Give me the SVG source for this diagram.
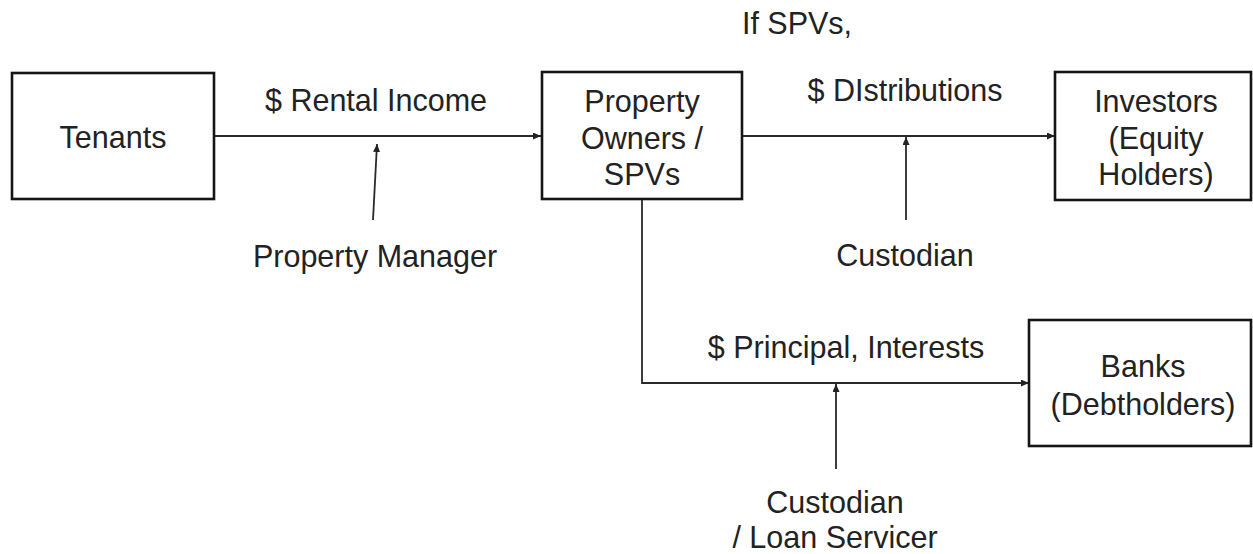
<svg xmlns="http://www.w3.org/2000/svg" width="1253" height="554" viewBox="0 0 1253 554">
<defs>
<marker id="ah" viewBox="0 0 10 10" refX="10" refY="5" markerWidth="8" markerHeight="7" orient="auto" markerUnits="userSpaceOnUse" preserveAspectRatio="none">
<path d="M0,0 L10,5 L0,10 z" fill="#222"/>
</marker>
<style>
.box{fill:#fff;stroke:#151515;stroke-width:2.6}
.t{font-family:"Liberation Sans",Arial,sans-serif;font-size:30.5px;fill:#222;text-anchor:middle;dominant-baseline:central}
.c{fill:none;stroke:#2a2a2a;stroke-width:1.8}
</style>
</defs>
<rect width="1253" height="554" fill="#fff"/>
<g id="connectors">
<line class="c" x1="214" y1="136" x2="541" y2="136" marker-end="url(#ah)"/>
<line class="c" x1="742" y1="136" x2="1055" y2="136" marker-end="url(#ah)"/>
<polyline class="c" points="642,199 642,383 1029,383" marker-end="url(#ah)"/>
<line class="c" x1="373" y1="220" x2="377" y2="144" marker-end="url(#ah)"/>
<line class="c" x1="906" y1="220" x2="906" y2="137" marker-end="url(#ah)"/>
<line class="c" x1="836" y1="469" x2="836" y2="384" marker-end="url(#ah)"/>
<text class="t" x="376" y="100">$ Rental Income</text>
<text class="t" x="905" y="90">$ DIstributions</text>
<text class="t" x="846" y="347">$ Principal, Interests</text>
<text class="t" x="797" y="23">If SPVs,</text>
<text class="t" x="375" y="256">Property Manager</text>
<text class="t" x="905" y="255">Custodian</text>
<text class="t" x="835" y="502">Custodian</text>
<text class="t" x="835" y="537">/ Loan Servicer</text>
</g>
<g id="tenants">
<rect class="box" x="12" y="73" width="202" height="126"/>
<text class="t" x="113" y="137">Tenants</text>
</g>
<g id="owners">
<rect class="box" x="542" y="72" width="200" height="127"/>
<text class="t" x="642" y="101">Property</text>
<text class="t" x="642" y="137.5">Owners /</text>
<text class="t" x="642" y="174">SPVs</text>
</g>
<g id="investors">
<rect class="box" x="1055" y="72" width="196" height="128"/>
<text class="t" x="1156" y="101">Investors</text>
<text class="t" x="1156" y="137.5">(Equity</text>
<text class="t" x="1156" y="174">Holders)</text>
</g>
<g id="banks">
<rect class="box" x="1029" y="320" width="222" height="126"/>
<text class="t" x="1143" y="366">Banks</text>
<text class="t" x="1143" y="404">(Debtholders)</text>
</g>
</svg>
